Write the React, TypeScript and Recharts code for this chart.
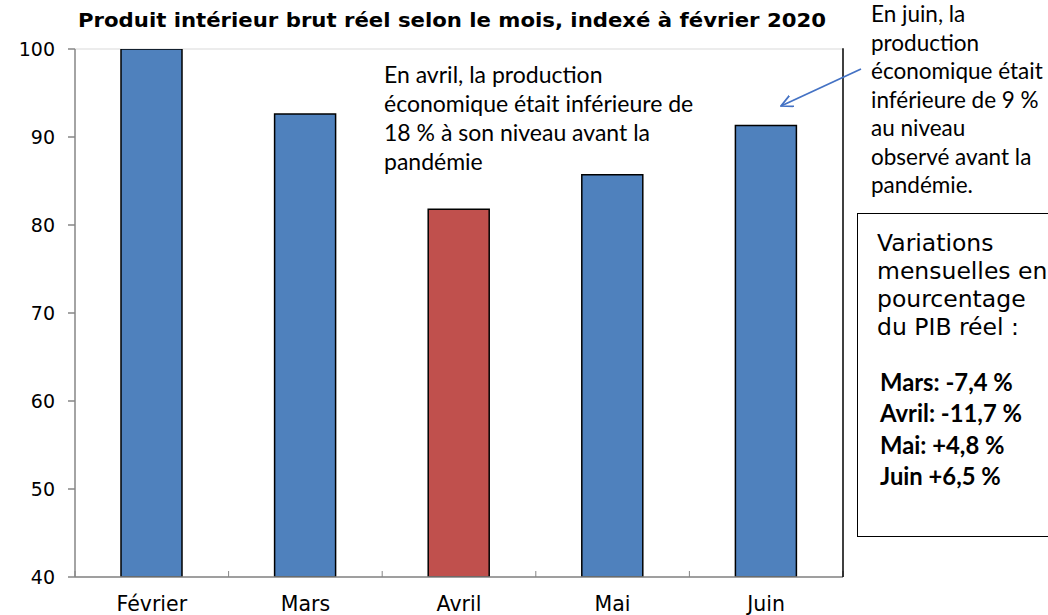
import React from 'react';
import { BarChart, Bar, XAxis, YAxis, CartesianGrid, Cell } from 'recharts';

const months = ['Février', 'Mars', 'Avril', 'Mai', 'Juin'];
const gdpIndex = [100, 92.6, 81.8, 85.7, 91.3];
const yTicks = [40, 50, 60, 70, 80, 90, 100];
const highlightMonth = 'Avril';
const titleText = 'Produit intérieur brut réel selon le mois, indexé à février 2020';
const aprilNote = [
  'En avril, la production',
  'économique était inférieure de',
  '18 % à son niveau avant la',
  'pandémie',
];
const juneNote = [
  'En juin, la',
  'production',
  'économique était',
  'inférieure de 9 %',
  'au niveau',
  'observé avant la',
  'pandémie.',
];
const boxHeading = ['Variations', 'mensuelles en', 'pourcentage', 'du PIB réel :'];
const changeLines = ['Mars: -7,4 %', 'Avril: -11,7 %', 'Mai: +4,8 %', 'Juin +6,5 %'];

const data = months.map((m, i) => ({ month: m, value: gdpIndex[i] }));

const BLUE = '#4F81BD';
const RED = '#C0504D';
const AXIS_GRAY = '#868686';

const XTick = (props: any) => {
  const { x, y, payload, index, visibleTicksCount } = props;
  const off = payload?.offset ?? 0;
  return (
    <g>
      <line x1={x - off} x2={x - off} y1={y} y2={y - 6} stroke={AXIS_GRAY} strokeWidth={1} />
      {index === visibleTicksCount - 1 && (
        <line x1={x + off} x2={x + off} y1={y} y2={y - 6} stroke={AXIS_GRAY} strokeWidth={1} />
      )}
      <text x={x} y={y + 34} textAnchor="middle" fontSize={20.5} fontFamily="DejaVu Sans" fill="#000">
        {payload.value}
      </text>
    </g>
  );
};

const calibri = "Lato, 'Noto Sans', sans-serif";

export default function App() {
  return (
    <div
      style={{
        position: 'absolute',
        left: 0,
        top: 0,
        width: 1048,
        height: 615,
        background: '#fff',
        overflow: 'hidden',
      }}
    >
      <div style={{ position: 'absolute', left: 0, top: 0 }}>
        <BarChart
          width={1048}
          height={615}
          data={data}
          margin={{ top: 49, right: 205, bottom: 0, left: 0 }}
        >
          <CartesianGrid vertical={false} stroke="#d9d9d9" strokeWidth={1} />
          <XAxis
            dataKey="month"
            xAxisId="b"
            height={38}
            stroke={AXIS_GRAY}
            strokeWidth={1.5}
            tickLine={false}
            tickSize={0}
            tickMargin={0}
            tick={<XTick />}
            interval={0}
          />
          <XAxis
            dataKey="month"
            xAxisId="t"
            orientation="top"
            height={0}
            stroke="#000"
            strokeWidth={1.5}
            tick={false}
            tickLine={false}
          />
          <YAxis
            yAxisId="l"
            width={75}
            domain={[40, 100]}
            ticks={yTicks}
            allowDataOverflow
            stroke={AXIS_GRAY}
            strokeWidth={1.5}
            tickSize={7}
            tickMargin={13}
            tick={{ fontSize: 19, fill: '#000', fontFamily: 'DejaVu Sans' }}
          />
          <Bar
            dataKey="value"
            xAxisId="b"
            yAxisId="l"
            barSize={61}
            stroke="#000"
            strokeWidth={1.5}
            isAnimationActive={false}
          >
            {data.map((d) => (
              <Cell key={d.month} fill={d.month === highlightMonth ? RED : BLUE} />
            ))}
          </Bar>
        </BarChart>
      </div>

      <svg
        width={1048}
        height={615}
        style={{ position: 'absolute', left: 0, top: 0, pointerEvents: 'none' }}
      >
        <defs>
          <marker
            id="openArrow"
            viewBox="0 0 12 12"
            refX={11}
            refY={6}
            markerWidth={13}
            markerHeight={13}
            markerUnits="userSpaceOnUse"
            orient="auto"
          >
            <path d="M0,0.5 L11,6 L0,11.5" fill="none" stroke="#4472C4" strokeWidth={1.6} />
          </marker>
        </defs>
        <line x1={843} y1={48.25} x2={843} y2={577} stroke="#000" strokeWidth={1.5} />
        <text
          x={452}
          y={27}
          textAnchor="middle"
          fontSize={19.5}
          fontWeight="bold"
          fontFamily="DejaVu Sans"
          fill="#000"
          textLength={748}
          lengthAdjust="spacingAndGlyphs"
        >
          {titleText}
        </text>
        <line
          x1={861}
          y1={69}
          x2={781}
          y2={106}
          stroke="#4472C4"
          strokeWidth={1.8}
          markerEnd="url(#openArrow)"
        />
      </svg>

      <div
        style={{
          position: 'absolute',
          left: 384,
          top: 60,
          fontFamily: calibri,
          fontSize: 23,
          lineHeight: '29px',
          color: '#000',
          whiteSpace: 'nowrap',
        }}
      >
        {aprilNote.map((l) => (
          <div key={l}>{l}</div>
        ))}
      </div>

      <div
        style={{
          position: 'absolute',
          left: 871,
          top: 0,
          fontFamily: calibri,
          fontSize: 22.5,
          lineHeight: '28.5px',
          color: '#000',
          whiteSpace: 'nowrap',
        }}
      >
        {juneNote.map((l) => (
          <div key={l}>{l}</div>
        ))}
      </div>

      <div
        style={{
          position: 'absolute',
          left: 857,
          top: 213,
          width: 220,
          height: 324,
          border: '1px solid #000',
          boxSizing: 'border-box',
        }}
      >
        <div
          style={{
            position: 'absolute',
            left: 19,
            top: 15,
            fontFamily: 'DejaVu Sans',
            fontSize: 23.5,
            lineHeight: '28px',
            color: '#000',
            whiteSpace: 'nowrap',
          }}
        >
          {boxHeading.map((l) => (
            <div key={l}>{l}</div>
          ))}
        </div>
        <div
          style={{
            position: 'absolute',
            left: 22,
            top: 153,
            fontFamily: calibri,
            fontWeight: 'bold',
            fontSize: 23.8,
            lineHeight: '31.3px',
            color: '#000',
            whiteSpace: 'nowrap',
          }}
        >
          {changeLines.map((l) => (
            <div key={l}>{l}</div>
          ))}
        </div>
      </div>
    </div>
  );
}
